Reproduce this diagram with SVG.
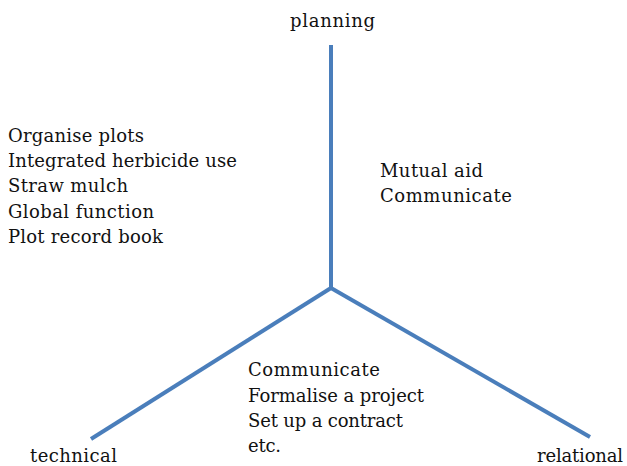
<svg xmlns="http://www.w3.org/2000/svg" width="627" height="466" viewBox="0 0 627 466">
<style>
text{font-family:"DejaVu Serif","Liberation Serif",serif;font-size:18px;fill:#111}
.ln{stroke:#4A7EBB;stroke-width:4;fill:none;stroke-linecap:butt}
</style>
<rect width="627" height="466" fill="#fff"/>
<g id="connectors">
<line class="ln" x1="331" y1="45" x2="331" y2="288"/>
<line class="ln" x1="331" y1="288" x2="91" y2="439"/>
<line class="ln" x1="331" y1="288" x2="590" y2="437"/>
</g>
<g id="planning"><text x="290" y="27" textLength="85">planning</text></g>
<g id="technical"><text x="30" y="462" textLength="87">technical</text></g>
<g id="relational"><text x="537" y="462" textLength="86">relational</text></g>
<g id="technical-list">
<text x="8" y="142" textLength="136">Organise plots</text>
<text x="8" y="167" textLength="229">Integrated herbicide use</text>
<text x="8" y="192" textLength="120">Straw mulch</text>
<text x="8" y="218" textLength="146">Global function</text>
<text x="8" y="243" textLength="155">Plot record book</text>
</g>
<g id="relational-list">
<text x="380" y="177" textLength="103">Mutual aid</text>
<text x="380" y="202" textLength="132">Communicate</text>
</g>
<g id="shared-list">
<text x="248" y="376" textLength="132">Communicate</text>
<text x="248" y="402" textLength="176">Formalise a project</text>
<text x="248" y="427" textLength="155">Set up a contract</text>
<text x="248" y="452" textLength="33">etc.</text>
</g>
</svg>
